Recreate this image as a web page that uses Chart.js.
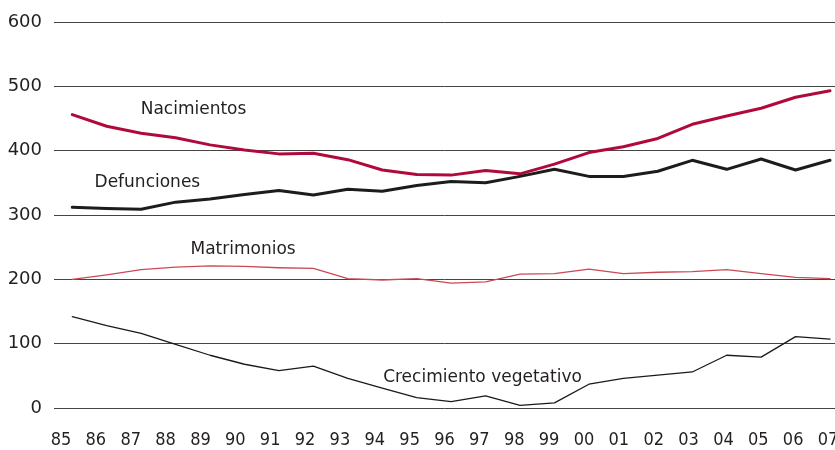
<!DOCTYPE html>
<html>
<head>
<meta charset="utf-8">
<script src="https://cdn.jsdelivr.net/npm/chart.js@4"></script>
<style>
html,body{margin:0;padding:0;background:#fff;}
#wrap{width:835px;height:450px;}
</style>
</head>
<body>
<div id="wrap"><canvas id="c" width="835" height="450"></canvas></div>
<script>
const years = ["85","86","87","88","89","90","91","92","93","94","95","96","97","98","99","00","01","02","03","04","05","06","07"];
const nacimientos = [456,438,427,420,409,401,395,396,386,370,363,362,369,364,379,397,406,419,441,454,466,483,493];
const defunciones = [312,310,309,320,325,332,338,331,340,337,346,352,350,360,371,360,360,368,385,371,387,370,385];
const matrimonios = [200,207,215,219,221,220,218,217,201,199,201,194,196,208,209,216,209,211,212,215,209,203,201];
const crecimiento = [142,128,116,99,82,68,58,65,46,31,16,10,19,4,8,37,46,51,56,82,79,111,107];
const yTicks = [0,100,200,300,400,500,600];

const seriesLabels = [
  {text:"Nacimientos", x:3.52, y:464},
  {text:"Defunciones", x:2.18, y:351},
  {text:"Matrimonios", x:4.96, y:246},
  {text:"Crecimiento vegetativo", x:11.91, y:48}
];

const toXY = arr => arr.map((v,i)=>({x:i,y:v}));

const labelPlugin = {
  id:'seriesLabels',
  afterDatasetsDraw(chart){
    const ctx = chart.ctx, xs = chart.scales.x, ys = chart.scales.y;
    ctx.save();
    ctx.font = '17px "DejaVu Sans"';
    ctx.fillStyle = '#231f20';
    ctx.textAlign = 'center';
    ctx.textBaseline = 'middle';
    seriesLabels.forEach(l=>{
      ctx.fillText(l.text, xs.getPixelForValue(l.x), ys.getPixelForValue(l.y));
    });
    ctx.restore();
  }
};

new Chart(document.getElementById('c'), {
  type:'line',
  data:{
    datasets:[
      {label:'Matrimonios', data:toXY(matrimonios), borderColor:'#c94a55', borderWidth:1.3, pointRadius:0, tension:0},
      {label:'Crecimiento vegetativo', data:toXY(crecimiento), borderColor:'#1a1a1a', borderWidth:1.3, pointRadius:0, tension:0},
      {label:'Defunciones', data:toXY(defunciones), borderColor:'#1c1c1c', borderWidth:3, pointRadius:0, tension:0},
      {label:'Nacimientos', data:toXY(nacimientos), borderColor:'#b00a3c', borderWidth:3, pointRadius:0, tension:0}
    ]
  },
  options:{
    responsive:false,
    animation:false,
    layout:{padding:{left:8,right:0,top:22,bottom:0}},
    plugins:{legend:{display:false}, tooltip:{enabled:false}},
    elements:{line:{borderJoinStyle:'round', borderCapStyle:'round'}},
    scales:{
      x:{type:'linear', display:false, min:-0.531, max:22.145},
      xLab:{type:'linear', position:'bottom', min:-0.2, max:22.2,
        grid:{display:false, drawTicks:false}, border:{display:false},
        afterBuildTicks(scale){ scale.ticks = years.map((_,i)=>({value:i})); },
        afterFit(scale){ scale.height = 42; scale.paddingLeft = 0; scale.paddingRight = 0; },
        ticks:{autoSkip:false, maxRotation:0, minRotation:0, padding:22,
          font:{family:'"Liberation Sans Narrow", "DejaVu Sans Condensed", sans-serif', size:18},
          color:'#231f20',
          callback:(v)=>years[v] ?? ''}
      },
      y:{type:'linear', min:0, max:600,
        afterBuildTicks(scale){ scale.ticks = yTicks.map(v=>({value:v})); },
        afterFit(scale){ scale.width = 46; scale.paddingTop = 0; scale.paddingBottom = 0; },
        grid:{color:'#444', lineWidth:1, drawTicks:false}, border:{display:false},
        ticks:{padding:12, font:{family:'"DejaVu Sans"', size:18}, color:'#231f20'}
      }
    }
  },
  plugins:[labelPlugin]
});
</script>
</body>
</html>
